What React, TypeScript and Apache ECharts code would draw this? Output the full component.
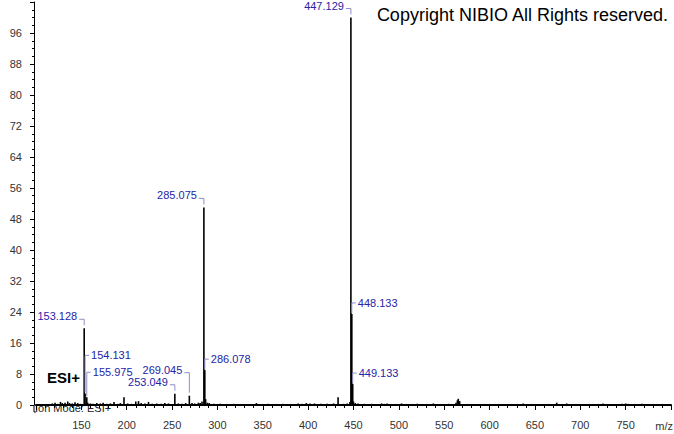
import React, { useEffect, useRef } from "react";
import * as echarts from "echarts";

// ---- data ----
const spectrumMz = [
  118, 121, 124, 127, 129, 132, 135, 137, 140, 143, 146, 149,
  153.128, 154.131, 155.975, 157, 160, 163, 167, 171, 174, 178, 182, 186, 190, 193, 197,
  201, 205, 210, 213, 216, 220, 224, 228, 233, 238, 242, 246, 253.049, 257, 261, 265,
  269.045, 272, 275, 279, 281, 283, 285.075, 286.078, 287, 289, 291, 296, 303, 318,
  343, 356, 372, 389, 393, 398, 402, 407, 414, 421, 428, 433, 439, 443, 446,
  447.129, 448.133, 449.133, 450, 452, 455, 462, 470, 481, 484, 487, 503, 520, 538,
  555, 563, 564.5, 565.5, 567, 580, 620, 637, 674, 685, 700, 725, 746, 750, 753, 768, 790,
];
const spectrumIntensity = [
  0.4, 0.6, 0.3, 0.8, 0.5, 0.6, 0.9, 0.5, 0.4, 0.7, 0.5, 0.3,
  19.8, 3.0, 2.0, 0.6, 0.4, 0.3, 0.5, 0.4, 0.6, 0.3, 0.4, 0.8, 0.3, 0.5, 2.0,
  0.4, 0.3, 0.9, 1.0, 0.5, 0.4, 0.8, 0.3, 0.4, 0.3, 0.5, 0.4, 2.9, 0.4, 0.3, 0.5,
  2.4, 0.5, 0.4, 0.6, 0.5, 0.9, 51, 9.0, 1.5, 0.6, 0.5, 0.3, 0.3, 0.3,
  0.5, 0.3, 0.3, 0.4, 0.3, 0.5, 0.4, 0.4, 0.3, 0.3, 0.4, 2.0, 0.3, 0.4, 0.8,
  100, 23.5, 5.4, 0.9, 0.5, 0.4, 0.3, 0.3, 0.4, 0.3, 0.4, 0.4, 0.3, 0.4,
  0.3, 0.6, 1.2, 1.6, 1.0, 0.2, 0.2, 0.4, 0.6, 0.4, 0.2, 0.4, 0.3, 0.4, 0.3, 0.3, 0.2,
];

const labeledMz = [153.128, 154.131, 155.975, 253.049, 269.045, 285.075, 286.078, 447.129, 448.133, 449.133];
const labeledIntensity = [19.8, 3.0, 2.0, 2.9, 2.4, 51, 9.0, 100, 23.5, 5.4];

const xTicks = [150, 200, 250, 300, 350, 400, 450, 500, 550, 600, 650, 700, 750];
const yTicks = [0, 8, 16, 24, 32, 40, 48, 56, 64, 72, 80, 88, 96];

// ---- label layout (not data) ----
const labelSide = ["left", "right", "right", "left", "left", "left", "right", "left", "right", "right"];
const labelLift = [0, 27, 14, 0, 14, 0, 0, 0, 0, 0];

const BLUE = "#2424a8";
const BRACKET = "#8e8ec4";
const FONT = "Liberation Sans, Arial, sans-serif";

export default function App() {
  const ref = useRef<HTMLDivElement>(null);

  useEffect(() => {
    if (!ref.current) return;
    const chart = echarts.init(ref.current, undefined, { renderer: "svg" });

    const sticks = spectrumMz.map((m, i) => [m, spectrumIntensity[i]]);
    const labeled = labeledMz.map((m, i) => [m, labeledIntensity[i]]);

    const axisCommon = {
      type: "value" as const,
      min: 100,
      max: 800,
      splitLine: { show: false },
    };

    chart.setOption({
      animation: false,
      backgroundColor: "#ffffff",
      grid: { left: 36, right: 3, top: 2, bottom: 29, containLabel: false, outerBoundsMode: "none" },
      xAxis: [
        {
          ...axisCommon,
          interval: 50,
          position: "bottom",
          offset: 7,
          axisLine: { show: true, lineStyle: { color: "#000", width: 1 } },
          axisTick: { show: true, length: 5, lineStyle: { color: "#000" } },
          minorTick: { show: true, splitNumber: 5, length: 3, lineStyle: { color: "#000" } },
          axisLabel: {
            margin: 7,
            color: "#333",
            fontSize: 11,
            fontFamily: FONT,
            formatter: (v: number) => (xTicks.includes(v) ? String(v) : ""),
          },
        },
        {
          ...axisCommon,
          position: "bottom",
          offset: 0,
          axisLine: { show: true, lineStyle: { color: "#000", width: 2 } },
          axisTick: { show: false },
          axisLabel: { show: false },
        },
      ],
      yAxis: {
        type: "value",
        min: 0,
        max: 104,
        interval: 8,
        offset: 2,
        axisLine: { show: true, lineStyle: { color: "#000", width: 1 } },
        axisTick: { show: true, length: 4, lineStyle: { color: "#000" } },
        minorTick: { show: true, splitNumber: 4, length: 2, lineStyle: { color: "#000" } },
        splitLine: { show: false },
        axisLabel: {
          margin: 12,
          color: "#333",
          fontSize: 11,
          fontFamily: FONT,
          formatter: (v: number) => (yTicks.includes(v) ? String(v) : ""),
        },
      },
      graphic: [
        {
          type: "polyline",
          shape: { points: [[34, 405], [34, 412], [36, 412]] },
          style: { stroke: "#000", lineWidth: 1, fill: null },
          silent: true,
        },
        {
          type: "text",
          x: 668,
          y: 15,
          style: {
            text: "Copyright NIBIO All Rights reserved.",
            align: "right",
            verticalAlign: "middle",
            fill: "#000",
            fontSize: 18,
            fontFamily: FONT,
          },
        },
        {
          type: "text",
          x: 47,
          y: 377,
          style: {
            text: "ESI+",
            align: "left",
            verticalAlign: "middle",
            fill: "#000",
            fontSize: 15,
            fontWeight: "bold",
            fontFamily: FONT,
          },
        },
        {
          type: "text",
          x: 35,
          y: 408,
          style: {
            text: "Ion Mode: ESI+",
            align: "left",
            verticalAlign: "middle",
            fill: "#222",
            fontSize: 11,
            fontFamily: FONT,
          },
        },
        {
          type: "text",
          x: 673,
          y: 426,
          style: {
            text: "m/z",
            align: "right",
            verticalAlign: "middle",
            fill: "#333",
            fontSize: 11,
            fontFamily: FONT,
          },
        },
      ],
      series: [
        {
          type: "custom",
          xAxisIndex: 0,
          yAxisIndex: 0,
          data: sticks,
          clip: true,
          silent: true,
          renderItem: (params: any, api: any) => {
            const x = api.value(0);
            const y = api.value(1);
            const p0 = api.coord([x, 0]);
            const p1 = api.coord([x, y]);
            return {
              type: "line",
              shape: { x1: p0[0], y1: p0[1], x2: p1[0], y2: p1[1] },
              style: { stroke: "#000", lineWidth: 1.6 },
            };
          },
        },
        {
          type: "custom",
          xAxisIndex: 0,
          yAxisIndex: 0,
          data: labeled,
          clip: false,
          silent: true,
          z: 5,
          renderItem: (params: any, api: any) => {
            const i = params.dataIndex;
            const m = api.value(0);
            const p = api.coord([m, api.value(1)]);
            const px = p[0];
            const py = p[1];
            const text = m.toFixed(3);
            const lift = labelLift[i];
            if (labelSide[i] === "left") {
              const ty = py - 12 - lift;
              const hy = ty + 3;
              return {
                type: "group",
                children: [
                  {
                    type: "text",
                    style: {
                      text,
                      x: px - 7,
                      y: ty,
                      align: "right",
                      verticalAlign: "middle",
                      fill: BLUE,
                      fontSize: 11,
                      fontFamily: FONT,
                    },
                  },
                  {
                    type: "polyline",
                    shape: { points: [[px - 5, hy], [px, hy], [px, py - 3]] },
                    style: { stroke: BRACKET, lineWidth: 1, fill: null },
                  },
                ],
              };
            }
            const ty = py - 11 - lift;
            return {
              type: "group",
              children: [
                {
                  type: "text",
                  style: {
                    text,
                    x: px + 6,
                    y: ty,
                    align: "left",
                    verticalAlign: "middle",
                    fill: BLUE,
                    fontSize: 11,
                    fontFamily: FONT,
                  },
                },
                {
                  type: "polyline",
                  shape: { points: [[px + 4, ty], [px, ty], [px, py - 1]] },
                  style: { stroke: BRACKET, lineWidth: 1, fill: null },
                },
              ],
            };
          },
        },
      ],
    });

    return () => chart.dispose();
  }, []);

  return (
    <div
      ref={ref}
      style={{ position: "absolute", left: 0, top: 0, width: 674, height: 434, background: "#fff" }}
    />
  );
}
